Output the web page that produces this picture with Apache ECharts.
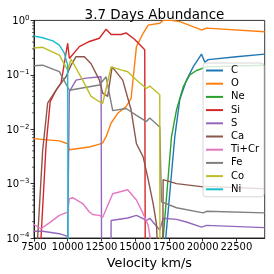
<!DOCTYPE html>
<html><head><meta charset="utf-8">
<script src="https://cdn.jsdelivr.net/npm/echarts/dist/echarts.min.js"></script>
<style>html,body{margin:0;padding:0;background:#fff}#c{width:274px;height:274px}</style>
</head><body><div id="c"></div>
<script>
const titleText = '3.7 Days Abundance';
const xName = 'Velocity km/s';
const names = ['C','O','Ne','Si','S','Ca','Ti+Cr','Fe','Co','Ni'];
const colors = ['#1f77b4','#ff7f0e','#2ca02c','#d62728','#9467bd','#8c564b','#e377c2','#7f7f7f','#bcbd22','#17becf'];
const xTicks = [7500,10000,12500,15000,17500,20000,22500];
const yMinorTicks = [2e-4,3e-4,4e-4,5e-4,6e-4,7e-4,8e-4,9e-4,2e-3,3e-3,4e-3,5e-3,6e-3,7e-3,8e-3,9e-3,0.02,0.03,0.04,0.05,0.06,0.07,0.08,0.09,0.2,0.3,0.4,0.5,0.6,0.7,0.8,0.9];

const C = [[17000,1e-8],[17267,1e-4],[17935,7.2e-3],[18305,0.035],[18803,0.08],[19300,0.14],[19916,0.24],[20161,0.17],[20413,0.19],[22500,0.215],[24600,0.24]];
const O = [[7450,6.7e-3],[9380,6.1e-3],[9995,5.4e-3],[10121,4.2e-3],[11605,4.7e-3],[12347,5.3e-3],[12592,5.6e-3],[12844,7.3e-3],[13215,0.013],[13705,0.0196],[14328,0.026],[14699,0.037],[15093,0.33],[15590,0.58],[15961,0.82],[16080,0.83],[16822,0.885],[17074,1.0],[17690,1.0],[18305,0.95],[19916,0.667],[20287,0.72],[24600,0.62]];
const Ne = [[16950,1e-8],[17074,1e-4],[17690,7.2e-3],[18061,0.0225],[18558,0.06],[19048,0.1],[19545,0.12],[20287,0.14],[24600,0.15]];
const Si = [[7450,1e-8],[7900,1e-8],[8021,1e-4],[8392,5e-3],[8700,0.032],[9100,0.05],[9505,0.07],[9995,0.38],[10121,0.2],[10863,0.33],[11605,0.41],[12347,0.47],[12844,0.69],[13215,0.55],[13958,0.55],[14328,0.59],[14950,0.45],[15093,0.45],[15708,0.29],[15783,1e-8],[24600,1e-8]];
const S = [[7450,1.33e-4],[8140,1.33e-4],[9379,1.2e-4],[9995,1.07e-4],[10121,0.049],[10618,0.08],[11360,0.087],[12473,0.092],[12547,1e-8],[13150,1e-8],[13215,2.1e-4],[14447,2.33e-4],[15093,2.6e-4],[15835,2.1e-4],[16080,2.3e-4],[16822,1.4e-4],[17074,2.3e-4],[18061,2.2e-4],[18803,1.97e-4],[19916,1.59e-4],[20287,1.71e-4],[24600,1.55e-4]];
const Ca = [[7450,1e-8],[7700,1e-8],[7770,1e-4],[8140,4e-3],[8511,0.03],[9253,0.058],[9871,0.092],[10247,0.15],[10618,0.215],[11234,0.215],[11731,0.16],[12347,0.08],[12592,0.046],[12962,0.04],[13290,0.14],[14076,0.08],[14699,0.0225],[15093,5.4e-3],[15590,3.1e-3],[15961,1.2e-3],[16332,4.3e-4],[16577,1.8e-4],[16800,1e-5],[16950,1e-8],[17074,1.18e-3],[18061,1.0e-3],[20042,8.7e-4],[20287,8.9e-4],[24600,8.05e-4]];
const TiCr = [[7450,1.79e-4],[8021,1.48e-4],[8637,1.9e-4],[9379,2.6e-4],[9995,3.0e-4],[10121,5.3e-4],[10366,5.5e-4],[11108,4.3e-4],[11605,3.0e-4],[11850,2.7e-4],[12347,2.6e-4],[12592,2.4e-4],[13334,6.5e-4],[14447,7.7e-4],[15093,5e-4],[15590,2.8e-4],[15961,1.71e-4],[16300,5e-5],[16500,1e-8]];
const Fe = [[7450,0.147],[8140,0.15],[9379,0.114],[10121,0.052],[12347,0.065],[12844,0.092],[13334,0.022],[14328,0.024],[15093,0.018],[15835,0.0138],[16080,0.016],[16822,0.011],[16948,4.6e-4],[18061,3.6e-4],[20042,2.9e-4],[20287,3.1e-4],[24600,2.9e-4]];
const Co = [[7450,0.31],[8140,0.32],[9379,0.23],[9995,0.122],[10247,0.193],[11108,0.08],[11731,0.04],[12347,0.032],[12592,0.03],[13215,0.14],[13958,0.123],[14447,0.114],[15093,0.08],[15835,0.056],[16080,0.062],[16822,0.043],[16850,1e-8]];
const Ni = [[7450,0.52],[8140,0.48],[8900,0.42],[9380,0.35],[9750,0.25],[9995,0.15],[10060,1e-8]];

const seriesData = [C,O,Ne,Si,S,Ca,TiCr,Fe,Co,Ni];
const FONT = 'DejaVu Sans';
const X_MIN = 7500, X_MAX = 24600;

const chart = echarts.init(document.getElementById('c'), null, {renderer:'canvas'});
const series = seriesData.map((d,i)=>({
  name: names[i], type:'line', data: d, showSymbol:false, symbol:'none', clip:true,
  lineStyle:{color:colors[i], width:1.4}, itemStyle:{color:colors[i]}, animation:false, z:2
}));
series.push({
  type:'custom', silent:true, animation:false, clip:false, z:5,
  data: yMinorTicks.map(v=>[X_MIN, v]),
  encode:{x:0,y:1},
  renderItem:(params, api)=>{
    const p = api.coord([api.value(0), api.value(1)]);
    return {type:'line', shape:{x1:p[0]-2, y1:p[1], x2:p[0], y2:p[1]}, style:{stroke:'#000', lineWidth:0.6}};
  }
});
chart.setOption({
  animation:false,
  backgroundColor:'#fff',
  textStyle:{fontFamily:FONT},
  title:{text:titleText, left:149.5, top:3, textAlign:'center',
    textStyle:{fontFamily:FONT, fontSize:13.5, fontWeight:'normal', color:'#000'}},
  grid:{left:34, top:20.4, width:230.7, height:217.6, show:true, borderColor:'#000', borderWidth:0.8, containLabel:false, outerBoundsMode:'none'},
  legend:{
    data:names, orient:'vertical', left:203, top:63, icon:'rect', itemWidth:17, itemHeight:2,
    itemGap:2.2, padding:[2,5,2,3], backgroundColor:'rgba(255,255,255,0.8)', borderColor:'#cccccc', borderWidth:0.8, borderRadius:3,
    textStyle:{fontFamily:FONT, fontSize:10, color:'#000', lineHeight:11, padding:[0,0,0,3]},
    selectedMode:false
  },
  xAxis:{
    type:'value', min:X_MIN, max:X_MAX, interval:2500,
    name:xName, nameLocation:'middle', nameGap:16,
    nameTextStyle:{fontFamily:FONT, fontSize:12.8, color:'#000'},
    axisLine:{show:true, lineStyle:{color:'#000', width:0.8}},
    axisTick:{show:true, inside:false, length:3.5, lineStyle:{color:'#000', width:0.8}},
    axisLabel:{fontFamily:FONT, fontSize:10, color:'#000', margin:4.5, showMaxLabel:false,
      formatter:v=> xTicks.includes(v) ? String(v) : ''},
    splitLine:{show:false}
  },
  yAxis:{
    type:'log', logBase:10, min:1e-4, max:1,
    axisLine:{show:true, lineStyle:{color:'#000', width:0.8}},
    axisTick:{show:true, inside:false, length:3.5, lineStyle:{color:'#000', width:0.8}},
    axisLabel:{fontFamily:FONT, fontSize:10, color:'#000', margin:4.5,
      formatter:v=>{const e=Math.round(Math.log10(v)); return '{b|10}{s|'+(e<0?'\u2212'+(-e):String(e))+'}';},
      rich:{b:{fontFamily:FONT, fontSize:10, color:'#000', lineHeight:12, verticalAlign:'bottom'},
            s:{fontFamily:FONT, fontSize:7, color:'#000', lineHeight:12, verticalAlign:'top', padding:[0,0,0,0]}}},
    splitLine:{show:false}, minorTick:{show:false}
  },
  series
});
</script></body></html>
